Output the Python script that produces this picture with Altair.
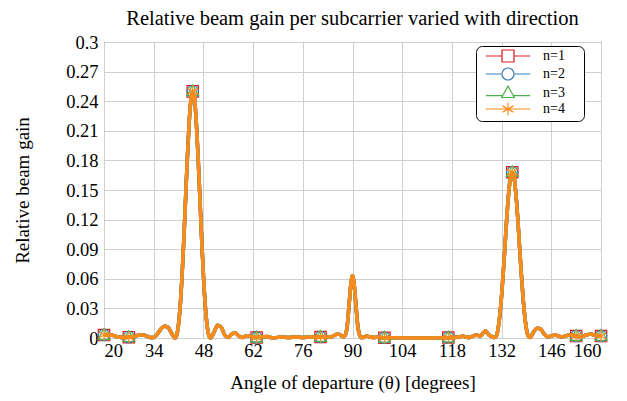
import altair as alt
import pandas as pd

# ---- data ----
angle = [20, 22, 24, 26, 27, 28, 30, 31, 32, 33, 34, 35, 36, 37, 38, 39, 40,
         40.5, 41, 41.5, 42, 42.5, 43, 43.5, 44, 44.5, 45, 45.5, 46, 46.5, 47,
         47.5, 48, 48.5, 49, 49.5, 50, 51, 52, 53, 54, 55, 56, 57, 58, 59, 60,
         61, 62, 63, 64, 66, 67, 68, 70, 72, 74, 76, 78, 80, 81, 82, 84, 85, 86,
         87, 87.5, 88, 88.5, 89, 89.5, 90, 90.5, 91, 91.5, 92, 92.5, 93, 94, 95,
         96, 97, 98, 99, 100, 105, 110, 115, 117, 118, 120, 121, 122, 123, 124,
         125, 126, 127, 127.5, 128, 128.5, 129, 129.5, 130, 130.5, 131, 131.5,
         132, 132.5, 133, 133.5, 134, 134.5, 135, 135.5, 136, 136.5, 137, 137.5,
         138, 138.5, 139, 139.5, 140, 141, 142, 143, 144, 145, 146, 147, 148,
         149, 150, 151, 152, 153, 154, 155, 156, 157, 158, 159, 160]
gain = [0.003, 0.003, 0.001, 0.0005, 0.0008, 0.001, 0.003, 0.003, 0.002, 0.0005,
        0.0005, 0.004, 0.009, 0.012, 0.011, 0.005, 0.0,
        0.003, 0.014, 0.034, 0.064, 0.101, 0.143, 0.184, 0.219, 0.242, 0.25,
        0.242, 0.219, 0.184, 0.143, 0.101, 0.064, 0.034, 0.014, 0.003, 0.0,
        0.006, 0.013, 0.011, 0.003, 0.0005, 0.004, 0.005, 0.002, 0.0005, 0.002,
        0.002, 0.0008, 0.0005, 0.001, 0.0015, 0.0005, 0.0003, 0.001, 0.0005,
        0.001, 0.0005, 0.001, 0.0008, 0.001, 0.001, 0.001, 0.003, 0.004,
        0.002, 0.001, 0.003, 0.012, 0.032, 0.053, 0.063, 0.053, 0.032, 0.012,
        0.003, 0.0005, 0.0005, 0.002, 0.001,
        0.0005, 0.001, 0.0003, 0.0002, 0.0002, 0.0001, 0.0001, 0.0002, 0.0003,
        0.0005, 0.001, 0.002, 0.001, 0.0005, 0.002,
        0.003, 0.002, 0.006, 0.007, 0.005, 0.003, 0.002, 0.001, 0.0005, 0.002,
        0.009, 0.023, 0.043, 0.068, 0.096, 0.124, 0.147, 0.163, 0.168, 0.163,
        0.147, 0.124, 0.096, 0.068, 0.043, 0.023, 0.009, 0.002, 0.0005, 0.006,
        0.01, 0.009, 0.004, 0.001, 0.002, 0.003, 0.002, 0.001, 0.002, 0.003,
        0.003, 0.002, 0.001, 0.002, 0.003, 0.004, 0.003, 0.002, 0.002]

marker_angle = [20, 27, 45, 63, 81, 99, 117, 135, 153, 160]
marker_gain = [0.003, 0.0008, 0.25, 0.0005, 0.001, 0.0002, 0.0005, 0.168, 0.002, 0.002]

series = ["n=1", "n=2", "n=3", "n=4"]
colors = ["#e41a1c", "#377eb8", "#4daf4a", "#ff8a1c"]

x_ticks = [20, 34, 48, 62, 76, 90, 104, 118, 132, 146, 160]
y_ticks = [0, 0.03, 0.06, 0.09, 0.12, 0.15, 0.18, 0.21, 0.24, 0.27, 0.3]

# ---- shapes ----
marker_paths = [
    "M-1,-1H1V1H-1Z",
    "M-1,0A1,1 0 1,0 1,0A1,1 0 1,0 -1,0Z",
    "M0,-1.15L1.05,0.75H-1.05Z",
    "M0,-1.05V1.05M-0.9,-0.52L0.9,0.52M-0.9,0.52L0.9,-0.52",
]
legend_paths = [
    "M-3.7,0H-1M1,0H3.7M-1,-1H1V1H-1Z",
    "M-3.7,0H-1M1,0H3.7M-1,0A1,1 0 1,0 1,0A1,1 0 1,0 -1,0Z",
    "M-3.7,0.45H-0.8M0.8,0.45H3.7M0,-1.15L1.05,0.75H-1.05Z",
    "M-3.7,0H3.7M0,-1.05V1.05M-0.9,-0.52L0.9,0.52M-0.9,0.52L0.9,-0.52",
]

FONT = "Liberation Serif"

rows = []
for s in series:
    for a, g in zip(angle, gain):
        rows.append({"angle": a, "gain": g, "n": s})
line_df = pd.DataFrame(rows)

mrows = []
for s in series:
    for a, g in zip(marker_angle, marker_gain):
        mrows.append({"angle": a, "gain": g, "n": s})
marker_df = pd.DataFrame(mrows)

xscale = alt.Scale(domain=[20, 160], nice=False, zero=False)
yscale = alt.Scale(domain=[0, 0.3], nice=False)

xenc = alt.X("angle:Q", scale=xscale,
             axis=alt.Axis(values=x_ticks, title="Angle of departure (θ) [degrees]",
                           grid=True, ticks=False, tickSize=0, domain=False,
                           labelFont=FONT, labelFontSize=18.5, labelColor="black",
                           titleFont=FONT, titleFontSize=19, titleFontWeight="normal",
                           titleColor="black",
                           labelPadding=3, titlePadding=14))
yenc = alt.Y("gain:Q", scale=yscale,
             axis=alt.Axis(values=y_ticks, format=".2~f", title="Relative beam gain",
                           grid=True, ticks=False, tickSize=0, domain=False,
                           labelFont=FONT, labelFontSize=18.5, labelColor="black",
                           titleFont=FONT, titleFontSize=19, titleFontWeight="normal",
                           titleColor="black",
                           labelPadding=6, titlePadding=33))

layers = []
for s, c, p in zip(series, colors, marker_paths):
    ln = alt.Chart(line_df).transform_filter(alt.datum.n == s).mark_line(
        color=c, strokeWidth=3.5, interpolate="monotone", clip=False
    ).encode(x=xenc, y=yenc)
    pt = alt.Chart(marker_df).transform_filter(alt.datum.n == s).mark_point(
        shape=p, size=130, color=c, filled=False, strokeWidth=1.2, opacity=1
    ).encode(x=xenc, y=yenc)
    layers += [ln, pt]

legend_layer = alt.Chart(marker_df).transform_filter("false").mark_point(
    filled=False, strokeWidth=1.2, opacity=1
).encode(
    x=xenc, y=yenc,
    color=alt.Color("n:N", scale=alt.Scale(domain=series, range=colors),
                    legend=alt.Legend(title="\u00a0", titleOrient="right", titlePadding=16,
                                      titleFontSize=14, titleFont=FONT,
                                      orient="none", legendX=372, legendY=4,
                                      symbolSize=144, symbolStrokeWidth=1.2,
                                      symbolOffset=22, labelOffset=28,
                                      labelFont=FONT, labelFontSize=14, labelColor="black",
                                      rowPadding=0, padding=3,
                                      strokeColor="black", cornerRadius=6,
                                      fillColor="white")),
    shape=alt.Shape("n:N", scale=alt.Scale(domain=series, range=legend_paths)),
)
layers.append(legend_layer)

chart = alt.layer(*layers).properties(
    width=497, height=296,
    title=alt.TitleParams("Relative beam gain per subcarrier varied with direction",
                          font=FONT, fontSize=20.5, fontWeight="normal", color="black",
                          offset=4),
    padding={"left": 96, "top": 34, "right": 10, "bottom": 55},
    autosize=alt.AutoSizeParams(type="none"),
).configure_view(
    stroke="black", strokeWidth=1
).configure_axis(
    gridColor="#d0d0d0", gridWidth=1, gridOpacity=1,
)

chart.save("out.html", embed_options={"renderer": "svg", "actions": False})
